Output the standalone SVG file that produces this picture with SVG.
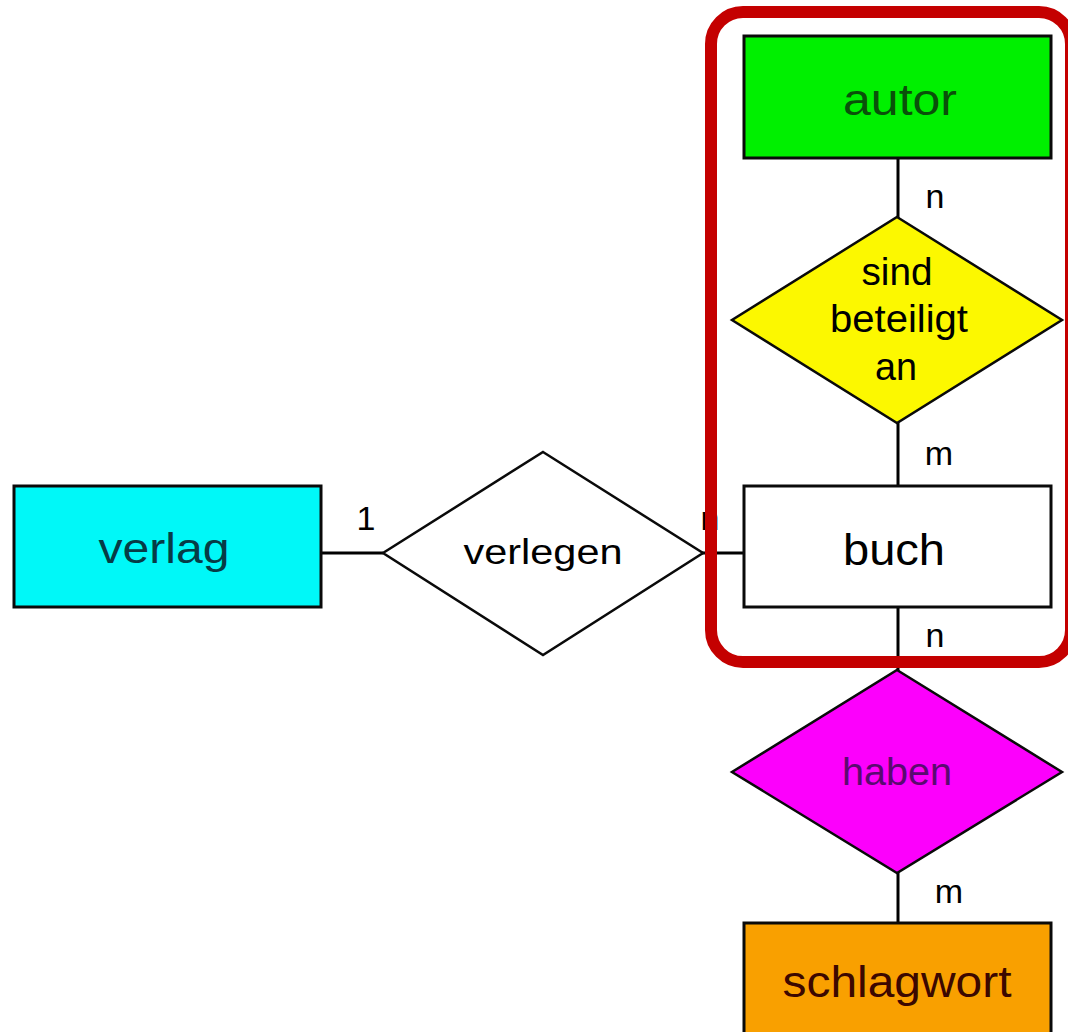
<svg xmlns="http://www.w3.org/2000/svg" width="1068" height="1032" viewBox="0 0 1068 1032">
<style>
.ent{stroke:#0a0a0a;stroke-width:3}
.rel{stroke:#0a0a0a;stroke-width:2.5}
.lbl{font-family:"Liberation Sans",Arial,sans-serif;text-anchor:middle}
.card{font-family:"Liberation Sans",Arial,sans-serif;font-size:34px;fill:#000}
.con{stroke:#000;stroke-width:3;fill:none}
</style>
<rect width="1068" height="1032" fill="#ffffff"/>
<g id="connectors">
<line class="con" x1="898" y1="158" x2="898" y2="218"/>
<line class="con" x1="898" y1="422" x2="898" y2="486"/>
<line class="con" x1="898" y1="607" x2="898" y2="671"/>
<line class="con" x1="898" y1="872" x2="898" y2="923"/>
<line class="con" x1="321" y1="553" x2="383" y2="553"/>
<line class="con" x1="702" y1="553" x2="744" y2="553"/>
<text class="card" x="366" y="530" text-anchor="middle">1</text>
<text class="card" x="710" y="530" text-anchor="middle">n</text>
<text class="card" x="935" y="208" text-anchor="middle">n</text>
<text class="card" x="939" y="465" text-anchor="middle">m</text>
<text class="card" x="935" y="647" text-anchor="middle">n</text>
<text class="card" x="949" y="903" text-anchor="middle">m</text>
</g>
<g id="verlag">
<rect class="ent" x="14" y="486" width="307" height="121" fill="#00f8f8"/>
<text class="lbl" x="164" y="563" font-size="42" fill="#063c46" textLength="131" lengthAdjust="spacingAndGlyphs">verlag</text>
</g>
<g id="verlegen">
<polygon class="rel" points="543,452 703,553 543,655 383,553" fill="#ffffff"/>
<text class="lbl" x="543" y="564" font-size="35" fill="#000" textLength="159" lengthAdjust="spacingAndGlyphs">verlegen</text>
</g>
<g id="autor">
<rect class="ent" x="744" y="36" width="307" height="122" fill="#00f000"/>
<text class="lbl" x="900" y="115" font-size="44" fill="#0a500a" textLength="114" lengthAdjust="spacingAndGlyphs">autor</text>
</g>
<g id="sind_beteiligt_an">
<polygon class="rel" points="897,217 1062,320 897,423 732,320" fill="#fcf800"/>
<text class="lbl" x="897" y="285" font-size="38" fill="#000" textLength="71" lengthAdjust="spacingAndGlyphs">sind</text>
<text class="lbl" x="899" y="332" font-size="38" fill="#000" textLength="138" lengthAdjust="spacingAndGlyphs">beteiligt</text>
<text class="lbl" x="896" y="380" font-size="38" fill="#000" textLength="42" lengthAdjust="spacingAndGlyphs">an</text>
</g>
<g id="buch">
<rect class="ent" x="744" y="486" width="307" height="121" fill="#ffffff"/>
<text class="lbl" x="894" y="565" font-size="44" fill="#000" textLength="102" lengthAdjust="spacingAndGlyphs">buch</text>
</g>
<g id="haben">
<polygon class="rel" points="897,670 1062,772 897,873 732,772" fill="#fc00fc"/>
<text class="lbl" x="897" y="785" font-size="38" fill="#5a0a70" textLength="110" lengthAdjust="spacingAndGlyphs">haben</text>
</g>
<g id="schlagwort">
<rect class="ent" x="744" y="923" width="307" height="120" fill="#f9a000"/>
<text class="lbl" x="897" y="997" font-size="44" fill="#3c0800" textLength="229" lengthAdjust="spacingAndGlyphs">schlagwort</text>
</g>
<g id="highlight">
<rect x="711" y="12" width="360" height="650" rx="32" ry="32" fill="none" stroke="#c40000" stroke-width="12"/>
</g>
</svg>
